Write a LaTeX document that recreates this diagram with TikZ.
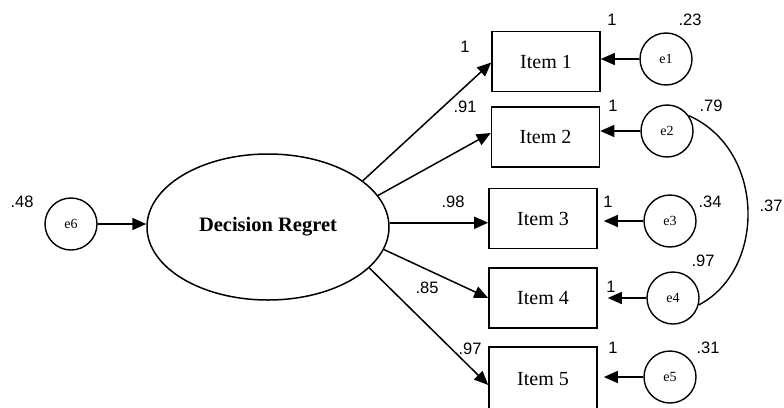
\documentclass[tikz,border=0pt]{standalone}
\usepackage{fontspec}
\setmainfont{Liberation Serif}
\newfontfamily\lblfont{Liberation Sans}
\usetikzlibrary{arrows.meta,shapes.geometric}
\begin{document}
\begin{tikzpicture}[x=1pt,y=-1pt,
  itembox/.style={draw, line width=1.6pt, minimum width=108pt, minimum height=60pt, inner sep=0pt, font=\fontsize{20}{24}\selectfont},
  errc/.style={draw, circle, line width=1.4pt, minimum size=52pt, inner sep=0pt, font=\fontsize{14}{16}\selectfont},
  latent/.style={draw, ellipse, line width=1.5pt, minimum width=242pt, minimum height=146pt, inner sep=0pt, font=\bfseries\fontsize{20.5}{24}\selectfont},
  lbl/.style={font=\lblfont\fontsize{16.5}{18}\selectfont, inner sep=0pt},
  arr/.style={line width=1.5pt, -{Triangle[length=14pt,width=12pt]}}]
\useasboundingbox (0,0) rectangle (784,407);

\node[latent] (dr) at (268,227) {Decision Regret};
\node[errc] (e6) at (71,224) {e6};

\node[itembox] (i1) at (546,61.5) {Item 1};
\node[itembox] (i2) at (545.5,137) {Item 2};
\node[itembox] (i3) at (543,218.5) {Item 3};
\node[itembox] (i4) at (543,298) {Item 4};
\node[itembox, minimum height=66pt] (i5) at (543,380) {\raisebox{3pt}{Item 5}};

\node[errc] (e1) at (666,59) {e1};
\node[errc] (e2) at (667,131) {e2};
\node[errc] (e3) at (670,221) {e3};
\node[errc] (e4) at (673,298) {e4};
\node[errc] (e5) at (670,377) {e5};

% disturbance
\draw[arr] (e6.east) -- (e6.east -| dr.west);

% loadings
\draw[arr] (dr.26.6) -- ([yshift=-1pt]i1.west);
\draw[arr] (dr.16) -- ([yshift=4pt]i2.west);
\draw[arr] (dr.2) -- (dr.2 -| i3.west);
\draw[arr] (dr.-11) -- (i4.west);
\draw[arr] (dr.-22) -- ([yshift=-5pt]i5.west);

% errors
\draw[arr] (e1.west) -- (e1.west -| i1.east);
\draw[arr] (e2.west) -- (e2.west -| i2.east);
\draw[arr] (e3.west) -- ([xshift=6pt]e3.west -| i3.east);
\draw[arr] (e4.west) -- ([xshift=10pt]e4.west -| i4.east);
\draw[arr] (e5.west) -- ([xshift=6pt]e5.west -| i5.east);

% covariance
\draw[line width=1.4pt] (e2.35) .. controls (766,150) and (766,270) .. (e4.-15);

% labels
\node[lbl] (l48) at (22,202) {.48};
\node[lbl] (l1a) at (465,47) {1};
\node[lbl] (l91) at (465,107) {.91};
\node[lbl] (l98) at (453,202) {.98};
\node[lbl] (l85) at (427,288) {.85};
\node[lbl] (l97a) at (470,349) {.97};

\node[lbl] (r1) at (612,20) {1};
\node[lbl] (v23) at (690,20) {.23};
\node[lbl] (r2) at (613,106) {1};
\node[lbl] (v79) at (711,106) {.79};
\node[lbl] (r3) at (608,202) {1};
\node[lbl] (v34) at (710,202) {.34};
\node[lbl] (c37) at (771,206) {.37};
\node[lbl] (v97) at (703,261) {.97};
\node[lbl] (r4) at (611,287) {1};
\node[lbl] (r5) at (613,348) {1};
\node[lbl] (v31) at (708,348) {.31};
\end{tikzpicture}
\end{document}
